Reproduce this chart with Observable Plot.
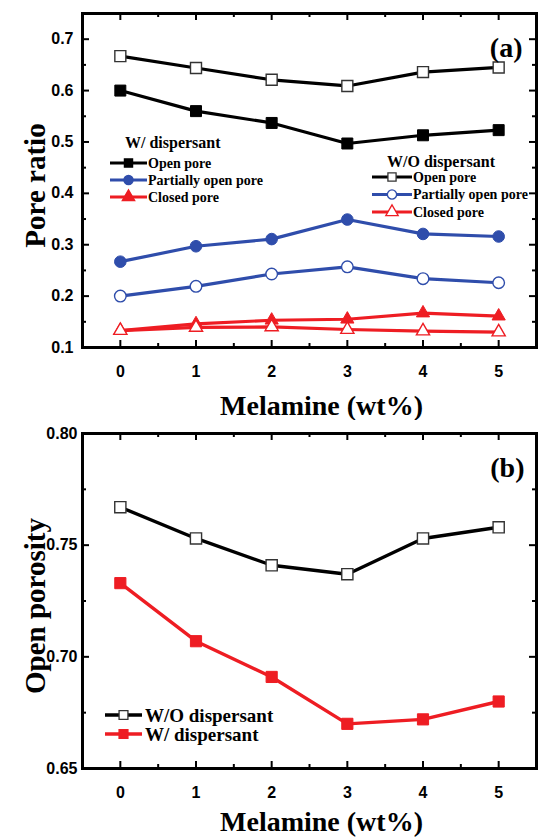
<!DOCTYPE html>
<html><head><meta charset="utf-8">
<script src="https://cdn.jsdelivr.net/npm/d3@7"></script>
<script src="https://cdn.jsdelivr.net/npm/@observablehq/plot@0.6"></script>
<style>body{margin:0;background:#fff} #chart svg{display:block}</style>
</head><body><div id="chart"></div>
<script>
// ---- data ----
const melamine = [0, 1, 2, 3, 4, 5];
const openW = [0.600, 0.560, 0.537, 0.497, 0.513, 0.523];
const openWO = [0.667, 0.644, 0.621, 0.609, 0.636, 0.645];
const partialW = [0.267, 0.297, 0.311, 0.349, 0.321, 0.316];
const partialWO = [0.200, 0.219, 0.243, 0.257, 0.234, 0.226];
const closedW = [0.133, 0.146, 0.153, 0.155, 0.167, 0.161];
const closedWO = [0.133, 0.139, 0.140, 0.135, 0.132, 0.130];
const porosityWO = [0.767, 0.753, 0.741, 0.737, 0.753, 0.758];
const porosityW = [0.733, 0.707, 0.691, 0.670, 0.672, 0.680];
const xTicks = [0, 1, 2, 3, 4, 5];
const xMinor = [0.5, 1.5, 2.5, 3.5, 4.5];
const yTicksA = [0.1, 0.2, 0.3, 0.4, 0.5, 0.6, 0.7];
const yMinorA = [0.15, 0.25, 0.35, 0.45, 0.55, 0.65];
const yTicksB = [0.65, 0.70, 0.75, 0.80];
const yMinorB = [0.675, 0.725, 0.775];
const legendTitlesA = ["W/ dispersant", "W/O dispersant"];
const poreLabels = ["Open pore", "Partially open pore", "Closed pore"];
const legendLabelsB = ["W/O dispersant", "W/ dispersant"];
const xTitle = "Melamine (wt%)";

// ---- styles ----
const BLACK = "#000", BLUE = "#2f4dab", RED = "#ee1d23", OUT = "#333";
const SANS = "Liberation Sans, Arial, sans-serif";
const SERIF = "Liberation Serif, Times New Roman, serif";
const W = 539;

function rows(values) { return melamine.map((m, i) => ({x: m, y: values[i]})); }

function seriesMarks(s, lw) {
  const data = rows(s.values);
  return [
    Plot.line(data, {x: "x", y: "y", stroke: s.color, strokeWidth: lw}),
    Plot.dot(data, {x: "x", y: "y", symbol: s.symbol, r: s.r,
      fill: s.filled ? s.color : "white",
      stroke: s.filled ? s.color : (s.outline || s.color),
      strokeWidth: s.filled ? 1 : 1.4})
  ];
}

function frameTicks(xMaj, xMin, yMaj, yMin, fw, fh) {
  const M = 7, m = 4, sw = 2;
  return [
    Plot.tickX(xMaj, {x: d => d, insetTop: fh - M, strokeWidth: sw}),
    Plot.tickX(xMaj, {x: d => d, insetBottom: fh - M, strokeWidth: sw}),
    Plot.tickX(xMin, {x: d => d, insetTop: fh - m, strokeWidth: sw}),
    Plot.tickX(xMin, {x: d => d, insetBottom: fh - m, strokeWidth: sw}),
    Plot.tickY(yMaj, {y: d => d, insetRight: fw - M, strokeWidth: sw}),
    Plot.tickY(yMaj, {y: d => d, insetLeft: fw - M, strokeWidth: sw}),
    Plot.tickY(yMin, {y: d => d, insetRight: fw - m, strokeWidth: sw}),
    Plot.tickY(yMin, {y: d => d, insetLeft: fw - m, strokeWidth: sw})
  ];
}

function symbolPath(s, r) {
  const type = s.symbol === "square" ? d3.symbolSquare : s.symbol === "triangle" ? d3.symbolTriangle : d3.symbolCircle;
  return d3.symbol().type(type).size(Math.PI * r * r)();
}

function legendMark(spec) {
  return () => {
    const g = d3.create("svg:g").attr("text-anchor", "start");
    if (spec.title) {
      g.append("text").attr("x", spec.titleX).attr("y", spec.titleY).attr("dy", "0.35em")
        .attr("text-anchor", "start")
        .attr("font-family", SERIF).attr("font-weight", "bold").attr("font-size", spec.titleSize)
        .text(spec.title);
    }
    spec.items.forEach((it, i) => {
      const y = spec.y0 + i * spec.step;
      g.append("line").attr("x1", spec.x0).attr("x2", spec.x1).attr("y1", y).attr("y2", y)
        .attr("stroke", it.color).attr("stroke-width", spec.lw);
      g.append("path").attr("d", symbolPath(it, spec.r))
        .attr("transform", `translate(${(spec.x0 + spec.x1) / 2},${y})`)
        .attr("fill", it.filled ? it.color : "white")
        .attr("stroke", it.filled ? it.color : (it.outline || it.color)).attr("stroke-width", 1.3);
      g.append("text").attr("x", spec.textX).attr("y", y).attr("dy", "0.35em")
        .attr("text-anchor", "start")
        .attr("font-family", SERIF).attr("font-weight", "bold").attr("font-size", spec.textSize)
        .text(it.label);
    });
    return g.node();
  };
}

// ---- panel (a) ----
const seriesA = [
  {values: openW, color: BLACK, symbol: "square", filled: true, r: 6.2, label: poreLabels[0]},
  {values: openWO, color: BLACK, symbol: "square", filled: false, outline: OUT, r: 6.2, label: poreLabels[0]},
  {values: partialW, color: BLUE, symbol: "circle", filled: true, r: 5.8, label: poreLabels[1]},
  {values: partialWO, color: BLUE, symbol: "circle", filled: false, r: 5.8, label: poreLabels[1]},
  {values: closedW, color: RED, symbol: "triangle", filled: true, r: 4.9, label: poreLabels[2]},
  {values: closedWO, color: RED, symbol: "triangle", filled: false, r: 4.9, label: poreLabels[2]}
];
const mA = {top: 13, bottom: 73, left: 82, right: 3};
const hA = 420;
const fwA = W - mA.left - mA.right, fhA = hA - mA.top - mA.bottom;

const plotA = Plot.plot({
  width: W, height: hA,
  marginTop: mA.top, marginBottom: mA.bottom, marginLeft: mA.left, marginRight: mA.right,
  style: {fontFamily: SANS, fontSize: "16px", fontWeight: "bold", background: "white"},
  x: {domain: [-0.5, 5.5]},
  y: {domain: [0.1, 0.75]},
  marks: [
    Plot.axisX(xTicks, {tickSize: 0, tickPadding: 18, label: null, fontSize: 16, fontWeight: "bold", fontFamily: SANS}),
    Plot.axisY(yTicksA, {tickSize: 0, tickPadding: 9, label: null, tickFormat: d3.format(".1f"), fontSize: 16, fontWeight: "bold", fontFamily: SANS}),
    ...frameTicks(xTicks, xMinor, yTicksA, yMinorA, fwA, fhA),
    ...seriesA.flatMap(s => seriesMarks(s, 3.2)),
    Plot.frame({stroke: BLACK, strokeWidth: 3}),
    Plot.text(["(a)"], {frameAnchor: "top-right", dx: -14, dy: 35, textAnchor: "end", lineAnchor: "middle",
      fontFamily: SERIF, fontWeight: "bold", fontSize: 28}),
    Plot.text(["Pore ratio"], {frameAnchor: "left", dx: -47, dy: 5, rotate: -90, textAnchor: "middle", lineAnchor: "middle",
      fontFamily: SERIF, fontWeight: "bold", fontSize: 29}),
    Plot.text([xTitle], {frameAnchor: "bottom", dx: 12, dy: 59, textAnchor: "middle", lineAnchor: "middle",
      fontFamily: SERIF, fontWeight: "bold", fontSize: 28}),
    legendMark({title: legendTitlesA[0], titleX: 125, titleY: 142, titleSize: 16,
      items: [seriesA[0], seriesA[2], seriesA[4]], x0: 110, x1: 147, textX: 148, y0: 163, step: 17,
      lw: 3, r: 4.6, textSize: 14}),
    legendMark({title: legendTitlesA[1], titleX: 387, titleY: 161, titleSize: 16,
      items: [seriesA[1], seriesA[3], seriesA[5]], x0: 372, x1: 412, textX: 413, y0: 177, step: 17.5,
      lw: 3, r: 4.6, textSize: 14})
  ]
});

// ---- panel (b) ----
const seriesB = [
  {values: porosityWO, color: BLACK, symbol: "square", filled: false, outline: OUT, r: 6.3, label: legendLabelsB[0]},
  {values: porosityW, color: RED, symbol: "square", filled: true, r: 6.3, label: legendLabelsB[1]}
];
const mB = {top: 13, bottom: 71, left: 82, right: 3};
const hB = 419;
const fwB = W - mB.left - mB.right, fhB = hB - mB.top - mB.bottom;

const plotB = Plot.plot({
  width: W, height: hB,
  marginTop: mB.top, marginBottom: mB.bottom, marginLeft: mB.left, marginRight: mB.right,
  style: {fontFamily: SANS, fontSize: "16px", fontWeight: "bold", background: "white"},
  x: {domain: [-0.5, 5.5]},
  y: {domain: [0.65, 0.80]},
  marks: [
    Plot.axisX(xTicks, {tickSize: 0, tickPadding: 18, label: null, fontSize: 16, fontWeight: "bold", fontFamily: SANS}),
    Plot.axisY(yTicksB, {tickSize: 0, tickPadding: 5, label: null, tickFormat: d3.format(".2f"), fontSize: 16, fontWeight: "bold", fontFamily: SANS}),
    ...frameTicks(xTicks, xMinor, yTicksB, yMinorB, fwB, fhB),
    ...[seriesB[1], seriesB[0]].flatMap(s => seriesMarks(s, 3.4)),
    Plot.frame({stroke: BLACK, strokeWidth: 3}),
    Plot.text(["(b)"], {frameAnchor: "top-right", dx: -12, dy: 35, textAnchor: "end", lineAnchor: "middle",
      fontFamily: SERIF, fontWeight: "bold", fontSize: 28}),
    Plot.text(["Open porosity"], {frameAnchor: "left", dx: -47, dy: 5, rotate: -90, textAnchor: "middle", lineAnchor: "middle",
      fontFamily: SERIF, fontWeight: "bold", fontSize: 29}),
    Plot.text([xTitle], {frameAnchor: "bottom", dx: 12, dy: 54, textAnchor: "middle", lineAnchor: "middle",
      fontFamily: SERIF, fontWeight: "bold", fontSize: 28}),
    legendMark({items: seriesB, x0: 105, x1: 142, textX: 145, y0: 295, step: 19,
      lw: 3.4, r: 5, textSize: 19})
  ]
});

const root = document.getElementById("chart");
root.appendChild(plotA);
root.appendChild(plotB);
</script>
</body></html>
